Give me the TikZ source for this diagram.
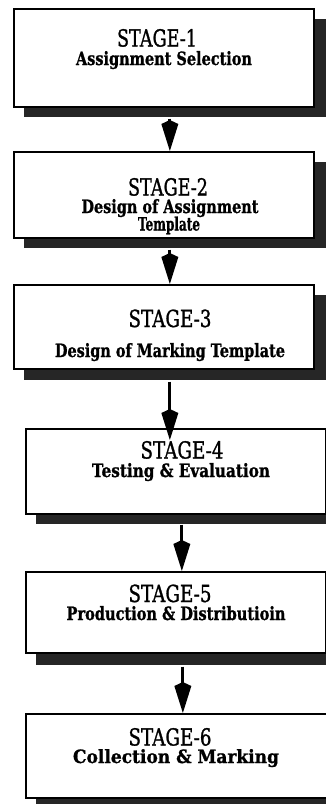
\documentclass[tikz,border=0pt]{standalone}
\usepackage{fontspec}
\setmainfont{DejaVu Serif}
\newfontfamily\heavyfont{DejaVu Serif}[FakeBold=1.2]
\usetikzlibrary{arrows.meta}
\newsavebox{\fitbox}
\newcommand{\fitw}[2]{\sbox{\fitbox}{#2}\pgfmathsetmacro{\fitsx}{#1/\wd\fitbox}\scalebox{\fitsx}[1]{\usebox{\fitbox}}}
\newcommand{\stgtxt}[2]{\fitw{#1}{\fontsize{23.5}{23.5}\heavyfont #2}}
\newcommand{\subttl}[2]{\fitw{#1}{\fontsize{18.3}{18.3}\heavyfont\bfseries #2}}
\tikzset{
  stagebox/.style={draw=black, line width=1.7pt, fill=white, inner sep=0pt, anchor=north west},
  shade/.style={fill=black!85, draw=none},
  arr/.style={line width=3pt, -{Kite[length=31pt,width=17pt,inset=4pt]}},
  lbl/.style={anchor=base, inner sep=0pt}
}
\begin{document}
\begin{tikzpicture}[x=1pt,y=-1pt]
\useasboundingbox (0,0) rectangle (326,804);
\clip (0,0) rectangle (326,804);
% shadows
\fill[shade] (24,19) rectangle (330,117);
\fill[shade] (24,162) rectangle (330,248);
\fill[shade] (24,295) rectangle (330,380);
\fill[shade] (36,439) rectangle (340,524);
\fill[shade] (36,582) rectangle (340,665);
\fill[shade] (36,724) rectangle (340,810);
% boxes
\node[stagebox, minimum width=300pt, minimum height=98pt] (b1) at (13,8) {};
\node[stagebox, minimum width=300pt, minimum height=86pt] (b2) at (13,151) {};
\node[stagebox, minimum width=300pt, minimum height=84pt] (b3) at (13,284) {};
\node[stagebox, minimum width=300pt, minimum height=85pt] (b4) at (25,428) {};
\node[stagebox, minimum width=300pt, minimum height=81pt] (b5) at (25,571) {};
\node[stagebox, minimum width=302pt, minimum height=84pt] (b6) at (25,713) {};
% texts
\node[lbl] (t1a) at (157,46.5) {\stgtxt{80}{STAGE-1}};
\node[lbl] (t1b) at (164,65) {\subttl{176}{Assignment Selection}};
\node[lbl] (t2a) at (168,195.5) {\stgtxt{80}{STAGE-2}};
\node[lbl] (t2b) at (170,213) {\subttl{177}{Design of Assignment}};
\node[lbl] (t2c) at (169,230.5) {\subttl{62}{Template}};
\node[lbl] (t3a) at (170,327) {\stgtxt{83}{STAGE-3}};
\node[lbl] (t3b) at (170,357) {\subttl{230}{Design of Marking Template}};
\node[lbl] (t4a) at (182,458.5) {\stgtxt{83}{STAGE-4}};
\node[lbl] (t4b) at (181,477) {\subttl{178}{Testing \& Evaluation}};
\node[lbl] (t5a) at (170,602) {\stgtxt{83}{STAGE-5}};
\node[lbl] (t5b) at (176,620) {\subttl{219}{Production \& Distributioin}};
\node[lbl] (t6a) at (170,745.5) {\stgtxt{83}{STAGE-6}};
\node[lbl] (t6b) at (176,763) {\subttl{206}{Collection \& Marking}};
% arrows
\draw[arr] ([xshift=6pt,yshift=-11pt]b1.south) -- ([xshift=6pt]b2.north);
\draw[arr] ([xshift=6pt,yshift=-11pt]b2.south) -- ([xshift=6pt]b3.north);
\draw[arr] ([xshift=6pt,yshift=-12pt]b3.south) -- ([xshift=-6pt,yshift=-12pt]b4.north);
\draw[arr] ([xshift=6pt,yshift=-10pt]b4.south) -- ([xshift=6pt]b5.north);
\draw[arr] ([xshift=7pt,yshift=-13pt]b5.south) -- ([xshift=6pt]b6.north);
\end{tikzpicture}
\end{document}
